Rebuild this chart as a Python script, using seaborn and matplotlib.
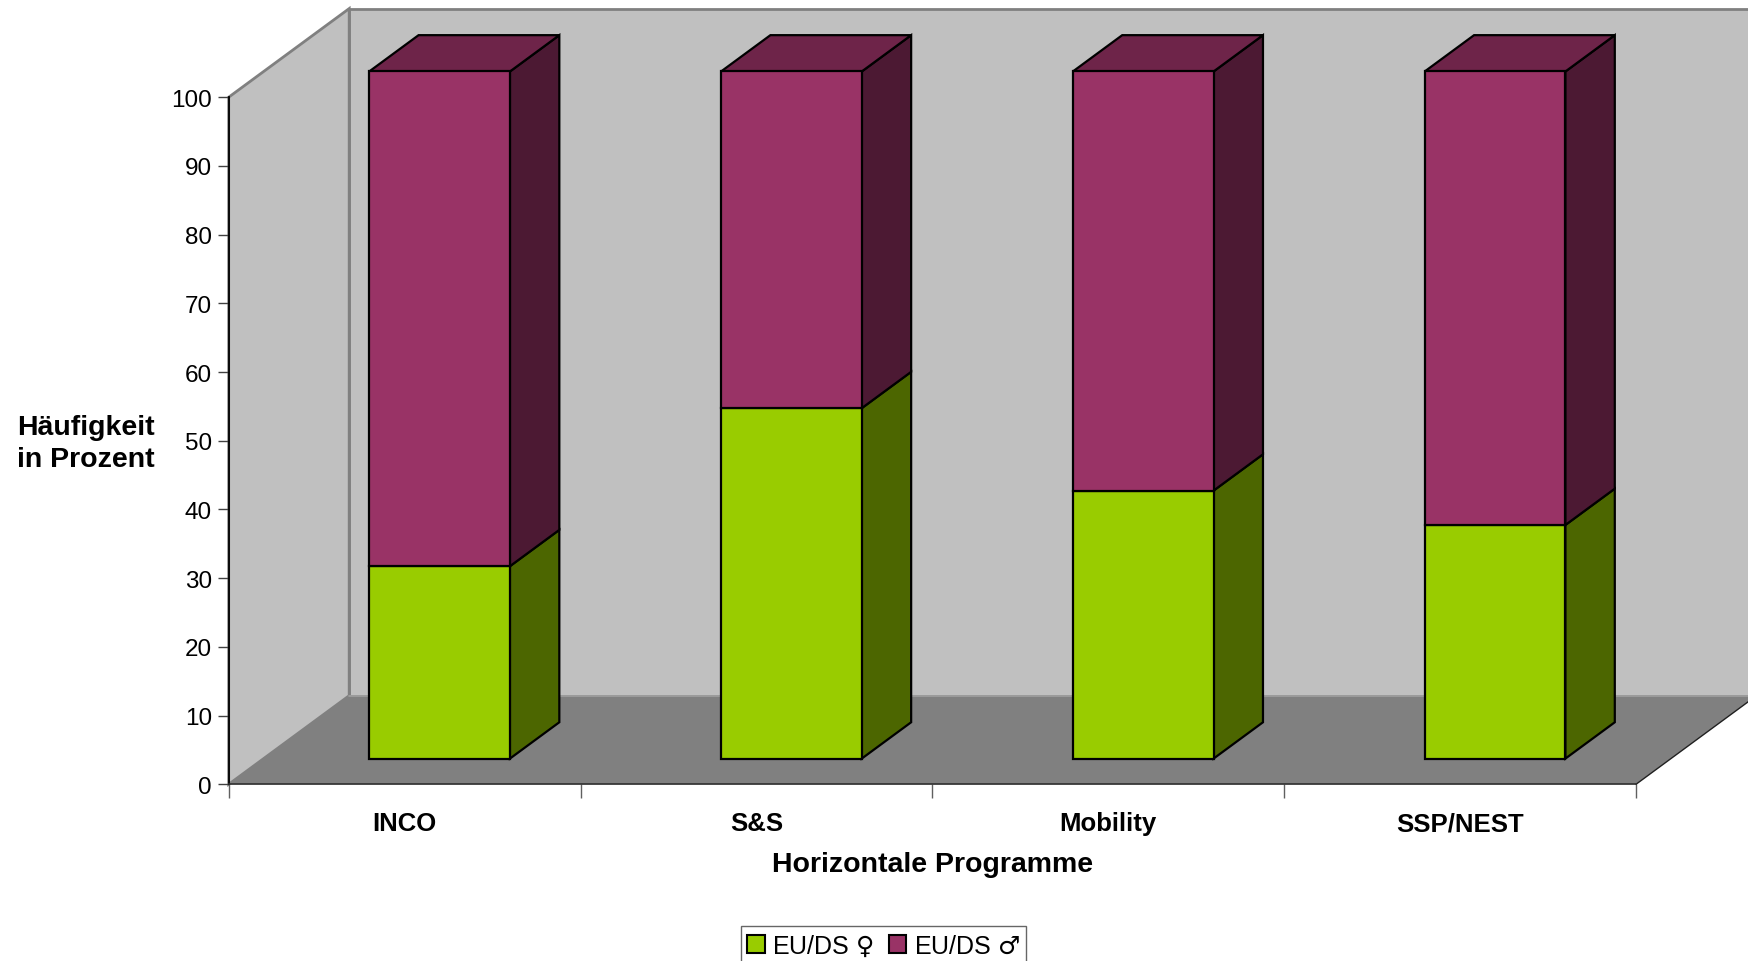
import numpy as np
import seaborn as sns
import matplotlib.pyplot as plt
from matplotlib.patches import Polygon, Patch

# data (percent per programme)
programme = ["INCO", "S&S", "Mobility", "SSP/NEST"]
eu_ds_w = [28, 51, 39, 34]
eu_ds_m = [72, 49, 61, 66]
y_ticks = [0, 10, 20, 30, 40, 50, 60, 70, 80, 90, 100]
legend_labels = ["EU/DS $\u2640$", "EU/DS $\u2642$"]

# colours (Excel style)
green, green_side = "#99CC00", "#4C6600"
pink, pink_side, pink_top = "#993366", "#4C1933", "#6E2449"
wall_col, floor_col = "#C0C0C0", "#808080"

# fake 3D: full depth of the plot box in data units
DX, DY = 0.3425, 12.9
d0, d1 = 0.29, 0.70      # bar front / back depth fraction
bar_w = 0.4

sns.set_theme(style="white")
plt.rcParams["font.family"] = ["Liberation Sans", "DejaVu Sans"]
plt.rcParams["mathtext.fontset"] = "dejavusans"
for k in ["text.color", "axes.labelcolor", "xtick.labelcolor", "ytick.labelcolor"]:
    plt.rcParams[k] = "black"

fig = plt.figure(figsize=(17.49, 9.62), dpi=100)
ax = fig.add_axes([0.13076, 0.18368, 0.80463, 0.71424])

x0, x1 = -0.5, len(programme) - 0.5

# walls and floor
left_wall = [(x0, 0), (x0, 100), (x0 + DX, 100 + DY), (x0 + DX, DY)]
back_wall = [(x0 + DX, DY), (x0 + DX, 100 + DY), (x1 + DX, 100 + DY), (x1 + DX, DY)]
floor = [(x0, 0), (x1, 0), (x1 + DX, DY), (x0 + DX, DY)]
ax.add_patch(Polygon(back_wall, closed=True, fc=wall_col, ec="#808080", lw=2, clip_on=False, zorder=0))
ax.add_patch(Polygon(left_wall, closed=True, fc=wall_col, ec="#808080", lw=2, clip_on=False, zorder=0))
ax.add_patch(Polygon(floor, closed=True, fc=floor_col, ec="none", clip_on=False, zorder=0.5))
ax.plot([x0 + DX, x1 + DX], [DY, DY], color="#A0A0A0", lw=1.2, clip_on=False, zorder=0.6)
ax.plot([x1, x1 + DX], [0, DY], color="#202020", lw=1, clip_on=False, zorder=0.6)

# front faces with seaborn, shifted to the bar depth
xf = np.arange(len(programme)) + d0 * DX
base = d0 * DY
w = np.array(eu_ds_w, dtype=float)
m = np.array(eu_ds_m, dtype=float)

sns.barplot(x=xf, y=w, native_scale=True, width=bar_w, bottom=base, color=green,
            saturation=1, edgecolor="black", linewidth=1.6, errorbar=None,
            clip_on=False, zorder=3, ax=ax)
sns.barplot(x=xf, y=m, native_scale=True, width=bar_w, bottom=w + base, color=pink,
            saturation=1, edgecolor="black", linewidth=1.6, errorbar=None,
            clip_on=False, zorder=3, ax=ax)

# side and top faces
dd = d1 - d0
for i in range(len(programme)):
    xl = xf[i] - bar_w / 2
    xr = xf[i] + bar_w / 2
    segs = [(base, base + w[i], green_side), (base + w[i], base + w[i] + m[i], pink_side)]
    for y_lo, y_hi, col in segs:
        side = [(xr, y_lo), (xr + dd * DX, y_lo + dd * DY), (xr + dd * DX, y_hi + dd * DY), (xr, y_hi)]
        ax.add_patch(Polygon(side, closed=True, fc=col, ec="black", lw=1.6, clip_on=False, zorder=2))
    top = base + w[i] + m[i]
    top_face = [(xl, top), (xr, top), (xr + dd * DX, top + dd * DY), (xl + dd * DX, top + dd * DY)]
    ax.add_patch(Polygon(top_face, closed=True, fc=pink_top, ec="black", lw=1.6, clip_on=False, zorder=2))

ax.set_xlim(x0, x1)
ax.set_ylim(0, 100)
ax.set_facecolor("none")

ax.set_yticks(y_ticks)
ax.set_yticklabels([str(t) for t in y_ticks], fontsize=17.5)
ax.tick_params(axis="y", left=True, length=8, width=1, color="#404040", pad=4, labelcolor="black")

ax.set_xticks(np.arange(len(programme)))
ax.set_xticklabels(programme, fontsize=18.5, fontweight="bold")
ax.set_xticks(np.arange(x0, x1 + 0.01, 1.0), minor=True)
ax.tick_params(axis="x", which="major", length=0, pad=19.5, labelcolor="black")
ax.tick_params(axis="x", which="minor", bottom=True, length=10, width=1, color="#606060")

for s in ["top", "right"]:
    ax.spines[s].set_visible(False)
ax.spines["left"].set_color("black")
ax.spines["left"].set_linewidth(1.3)
ax.spines["bottom"].set_color("#303030")
ax.spines["bottom"].set_linewidth(1.2)

ax.set_ylabel("H\u00e4ufigkeit\nin Prozent", fontsize=20.5, fontweight="bold",
              rotation=0, ha="center", va="center", multialignment="left", linespacing=1.3)
ax.yaxis.set_label_coords(-0.1014, 0.497)
ax.set_xlabel("Horizontale Programme", fontsize=20.5, fontweight="bold", va="center")
ax.xaxis.set_label_coords(0.5, -0.1167)

handles = [Patch(facecolor=green, edgecolor="black", lw=1.5),
           Patch(facecolor=pink, edgecolor="black", lw=1.5)]
leg = fig.legend(handles, legend_labels, loc="upper center", bbox_to_anchor=(0.5051, 0.036),
                 ncol=2, fontsize=18, frameon=True, fancybox=False, handlelength=0.7,
                 handleheight=0.7, handletextpad=0.3, columnspacing=0.6, borderpad=0.25,
                 borderaxespad=0)
leg.get_frame().set_edgecolor("#404040")
leg.get_frame().set_linewidth(1)

fig.savefig("out.png", dpi=100)
